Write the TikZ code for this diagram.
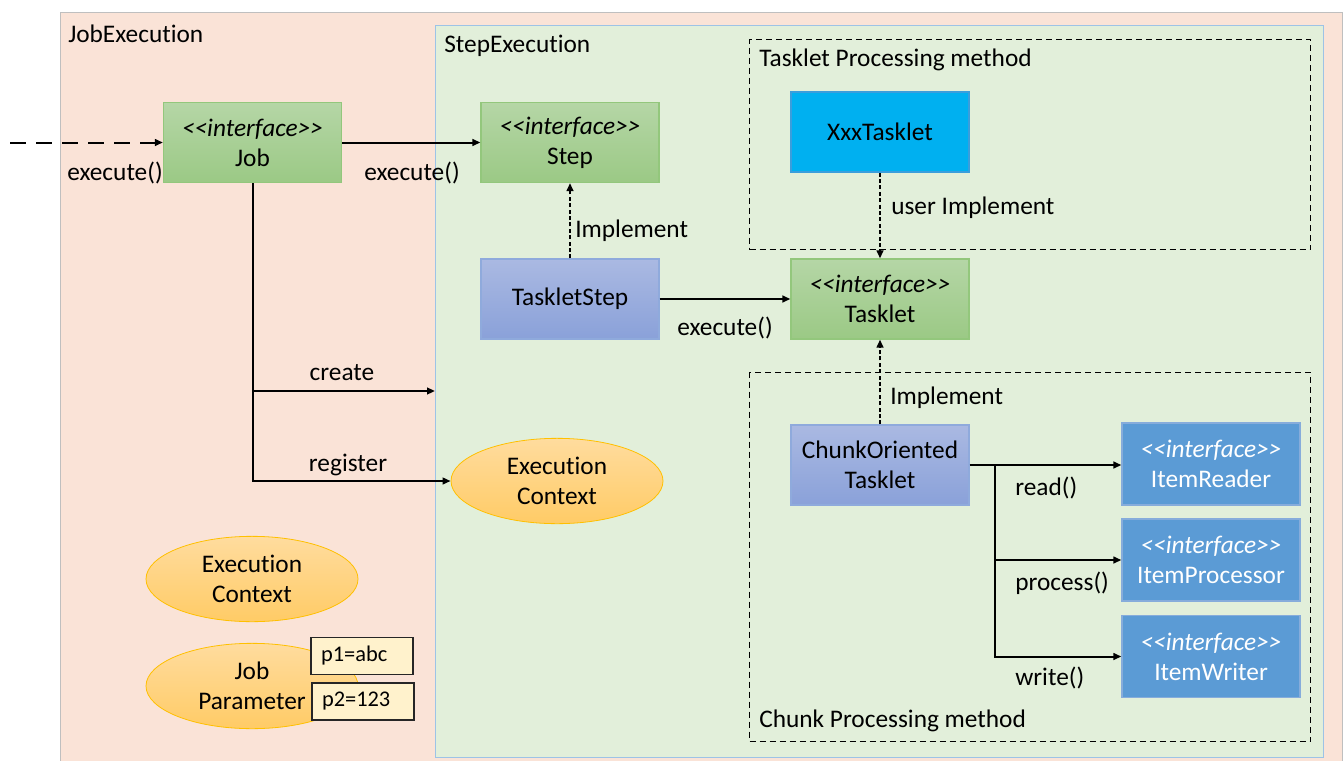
\documentclass[tikz,border=0pt]{standalone}
\usepackage{fontspec}
\setmainfont{Carlito}[Ligatures={TeXOff,NoCommon}]
\usetikzlibrary{shapes.geometric,arrows.meta}
\definecolor{jobbg}{HTML}{FAE3D7}
\definecolor{jobbd}{HTML}{BFBFBF}
\definecolor{stepbg}{HTML}{E2EFDA}
\definecolor{stepbd}{HTML}{9DC3E6}
\definecolor{gtop}{HTML}{B5D6A6}
\definecolor{gbot}{HTML}{9BC985}
\definecolor{gbd}{HTML}{93C77C}
\definecolor{btop}{HTML}{AAB9E2}
\definecolor{bbot}{HTML}{8AA1D9}
\definecolor{bbd}{HTML}{8FAADC}
\definecolor{cyanbox}{HTML}{00B0F0}
\definecolor{cyanbd}{HTML}{3A9EDC}
\definecolor{itembox}{HTML}{5B9BD5}
\definecolor{itembd}{HTML}{86ACDB}
\definecolor{etop}{HTML}{FFDC9E}
\definecolor{ebot}{HTML}{FFCB66}
\definecolor{ebd}{HTML}{FFC000}
\definecolor{pfill}{HTML}{FFF2CC}
\begin{document}
\begin{tikzpicture}[x=0.75pt,y=-0.75pt,
  every node/.style={font=\fontsize{19}{22.5}\selectfont, text=black, inner sep=0pt, align=center},
  container/.style={draw, anchor=north west, line width=0.9pt},
  dashbox/.style={draw=black, anchor=north west, line width=0.9pt, dash pattern=on 4.5pt off 3pt},
  greenbox/.style={draw=gbd, line width=0.9pt, top color=gtop, bottom color=gbot, minimum width=133.5pt, minimum height=60pt},
  bluebox/.style={draw=bbd, line width=0.9pt, top color=btop, bottom color=bbot, minimum width=133.5pt, minimum height=60pt},
  cyanstyle/.style={draw=cyanbd, line width=0.9pt, fill=cyanbox, minimum width=133.5pt, minimum height=60pt},
  itemstyle/.style={draw=itembd, line width=0.9pt, fill=itembox, text=white, minimum width=133.5pt, minimum height=61.5pt},
  ctxstyle/.style={ellipse, draw=ebd, line width=0.6pt, top color=etop, bottom color=ebot, minimum width=159pt, minimum height=64pt},
  pstyle/.style={draw=black!85, line width=1pt, fill=pfill, minimum width=76.5pt, minimum height=27.75pt, font=\fontsize{16.8}{20}\selectfont, inner xsep=7.5pt, text width=61.5pt, align=left},
  arr/.style={line width=1.5pt, -{Triangle[length=6pt,width=5pt]}},
  dasharr/.style={arr, dash pattern=on 3pt off 1.8pt}
]
\useasboundingbox (0,0) rectangle (1344,760);
\fill[white] (0,0) rectangle (1344,760);
% containers
\node[container, draw=jobbd, fill=jobbg, minimum width=961.5pt, minimum height=600pt] (jobexec) at (60,12) {};
\node[container, draw=stepbd, fill=stepbg, minimum width=666pt, minimum height=549pt] (stepexec) at (435,25) {};
\node[dashbox, minimum width=420.75pt, minimum height=157.5pt] (taskletproc) at (749,39) {};
\node[dashbox, minimum width=420.75pt, minimum height=276.75pt] (chunkproc) at (749,372) {};
\node[anchor=west] (jobexeclbl) at (68,34) {JobExecution};
\node[anchor=west] (stepexeclbl) at (444,46) {StepExecution};
\node[anchor=west] (taskletproclbl) at (759,60) {Tasklet Processing method};
\node[anchor=west] (chunkproclbl) at (759,721) {Chunk Processing method};
% nodes
\node[greenbox] (job) at (252.5,142.5) {\textit{<<interface>>}\\Job};
\node[greenbox] (step) at (570,142.5) {\textit{<<interface>>}\\Step};
\node[bluebox] (taskletstep) at (570,299) {TaskletStep};
\node[cyanstyle] (xxx) at (880,132) {XxxTasklet};
\node[greenbox] (tasklet) at (880,299) {\textit{<<interface>>}\\Tasklet};
\node[bluebox] (chunk) at (880,465) {ChunkOriented\\Tasklet};
\node[itemstyle] (reader) at (1211,464) {\textit{<<interface>>}\\ItemReader};
\node[itemstyle] (processor) at (1211,560) {\textit{<<interface>>}\\ItemProcessor};
\node[itemstyle] (writer) at (1211,656.5) {\textit{<<interface>>}\\ItemWriter};
\node[ctxstyle] (ctxstep) at (557,481) {Execution\\Context};
\node[ctxstyle] (ctxjob) at (252,579) {Execution\\Context};
\node[ctxstyle] (jobparam) at (252,686) {Job\\Parameter};
\node[pstyle] (p1) at (362,656) {p1=abc};
\node[pstyle] (p2) at (363,701.5) {p2=123};
% connectors
\coordinate (start) at (10,142.5);
\draw[arr, dash pattern=on 12pt off 7.5pt] (start) -- (job.west);
\node (l1) at (115,173) {execute()};
\draw[arr] (job.east) -- (step.west);
\node (l2) at (412,173) {execute()};
\draw[dasharr] (taskletstep.north) -- (step.south);
\node[anchor=west] (l3) at (575,231) {Implement};
\draw[arr] (taskletstep.east) -- (tasklet.west);
\node (l4) at (725,328) {execute()};
\draw[dasharr] (xxx.south) -- (tasklet.north);
\node[anchor=west] (l5) at (891,208) {user Implement};
\draw[dasharr] (chunk.north) -- (tasklet.south);
\node[anchor=west] (l6) at (890,398) {Implement};
\coordinate (createend) at (435,391);
\draw[arr] (job.south) |- (createend);
\node (l7) at (342,373) {create};
\draw[arr] (job.south) |- (ctxstep.west);
\node (l8) at (348,465) {register};
\draw[arr] (chunk.east) -- (chunk.east -| reader.west);
\coordinate (branch) at (995,465);
\draw[arr] (branch) |- (processor.west);
\draw[arr] (branch) |- (writer.west);
\node[anchor=west] (l9) at (1015,488) {read()};
\node[anchor=west] (l10) at (1015,583) {process()};
\node[anchor=west] (l11) at (1015,678) {write()};
\end{tikzpicture}
\end{document}
